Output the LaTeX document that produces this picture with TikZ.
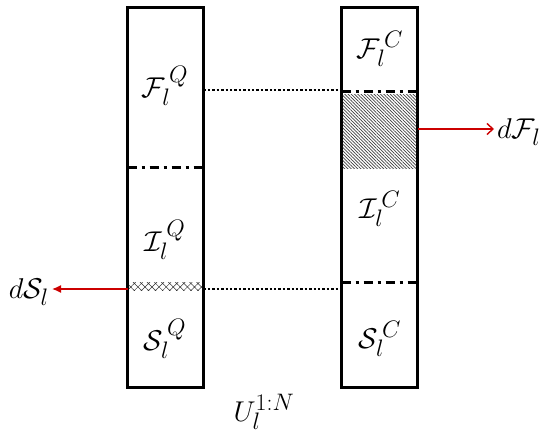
\documentclass[tikz,border=0pt]{standalone}
\usetikzlibrary{patterns.meta,arrows.meta}
\definecolor{arrred}{RGB}{204,0,0}
\begin{document}
\begin{tikzpicture}[x=1pt,y=-1pt,
  colbox/.style={draw=black,line width=2.8pt,minimum width=76pt,minimum height=380pt,inner sep=0pt,outer sep=0pt},
  dashdot/.style={line width=3pt,dash pattern=on 9pt off 5pt on 3pt off 5pt},
  dotline/.style={line width=2.4pt,dash pattern=on 2.4pt off 2pt},
  redarrow/.style={draw=arrred,line width=1.4pt},
  lab/.style={font=\Huge,inner sep=0pt,scale=1.15,transform shape}]
\useasboundingbox (0,0) rectangle (546,439);
% boxes
\node[colbox] (L) at (165.5,197.5) {};
\node[colbox] (R) at (379.5,197.5) {};
% hatched region in right box
\fill[pattern={Lines[angle=-45,distance=2.3pt,line width=0.7pt]},pattern color=black!75]
  ([xshift=1.4pt]R.west |- 0,94) rectangle ([xshift=-1.4pt]R.east |- 0,168);
% crosshatch band in left box
\fill[pattern={Hatch[angle=45,distance=5pt,line width=0.5pt]},pattern color=black!80]
  ([xshift=1.4pt]L.west |- 0,282) rectangle ([xshift=-1.4pt]L.east |- 0,290);
% dash-dot separators
\draw[dashdot] (L.west |- 0,167) -- (L.east |- 0,167);
\draw[dashdot] (R.west |- 0,91) -- (R.east |- 0,91);
\draw[dashdot] (R.west |- 0,282) -- (R.east |- 0,282);
% dotted connectors
\coordinate (d1a) at (L.east |- 0,90);
\coordinate (d1b) at (R.west |- 0,90);
\coordinate (d2a) at (L.east |- 0,289);
\coordinate (d2b) at (R.west |- 0,289);
\draw[dotline] (d1a) -- (d1b);
\draw[dotline] (d2a) -- (d2b);
% labels in boxes
\node[lab] (fq) at (165,86) {$\mathcal{F}_l^{\,Q}$};
\node[lab] (iq) at (165,240) {$\mathcal{I}_l^{\,Q}$};
\node[lab] (sq) at (165,339) {$\mathcal{S}_l^{\,Q}$};
\node[lab] (fc) at (380,49) {$\mathcal{F}_l^{\,C}$};
\node[lab] (ic) at (380,209) {$\mathcal{I}_l^{\,C}$};
\node[lab] (sc) at (380,339) {$\mathcal{S}_l^{\,C}$};
\node[lab] (u) at (264,412) {$U_l^{1:N}$};
% red arrows
\node[lab,anchor=west] (dF) at (497,132) {$d\mathcal{F}_l$};
\node[lab,anchor=east] (dS) at (49,292) {$d\mathcal{S}_l$};
\draw[redarrow,-{Straight Barb[length=6pt,width=11pt]}] (R.east |- 0,129) -- ([xshift=-3pt]dF.west |- 0,129);
\draw[redarrow,-{Latex[length=9pt,width=8pt]}] (L.west |- 0,289) -- ([xshift=3pt]dS.east |- 0,289);
\end{tikzpicture}
\end{document}
